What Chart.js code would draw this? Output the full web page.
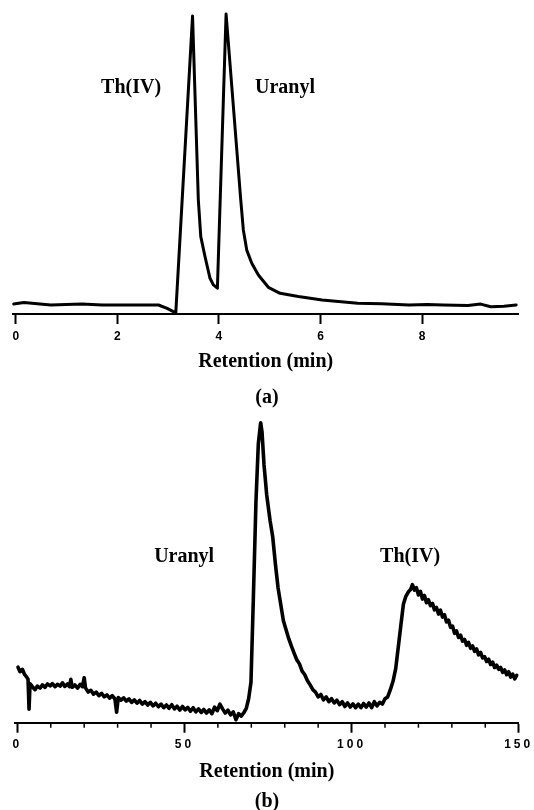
<!DOCTYPE html>
<html>
<head>
<meta charset="utf-8">
<script src="https://cdn.jsdelivr.net/npm/chart.js@4.4.1/dist/chart.umd.min.js"></script>
<style>
  html, body { margin: 0; padding: 0; background: #fff; }
  body { width: 534px; height: 810px; position: relative; overflow: hidden; }
  canvas { position: absolute; left: 0; }
  .cap { position: absolute; left: 0; width: 534px; text-align: center;
         font: bold 20px "Liberation Serif", "Times New Roman", serif; line-height: 24px; color: #000; }
</style>
</head>
<body>
<canvas id="chartA" width="534" height="405" style="top:0"></canvas>
<canvas id="chartB" width="534" height="405" style="top:405px"></canvas>
<div class="cap" style="top:384px">(a)</div>
<div class="cap" style="top:788px">(b)</div>
<script>
// ---------- Panel (a) ----------
const retentionA = [-0.04, 0.16, 0.69, 1.30, 1.70, 2.30, 2.81, 2.98, 3.15, 3.48, 3.594, 3.642, 3.726, 3.824, 3.890, 3.969,
  4.140, 4.429, 4.480, 4.547, 4.646, 4.776, 4.972, 5.203, 5.563, 6.03, 6.73, 7.20, 7.74, 8.10, 8.41, 8.90, 9.15, 9.35, 9.61, 9.85];
const signalA = [3.3, 3.8, 3.0, 3.3, 3.0, 3.0, 3.0, 1.9, 0.4, 99.3, 38.0, 25.8, 19.1, 11.9, 9.7, 8.6,
  100.0, 38.0, 28.0, 21.3, 16.9, 13.0, 8.9, 6.9, 5.8, 4.7, 3.6, 3.4, 3.0, 3.2, 3.0, 2.8, 3.3, 2.4, 2.6, 3.0];
const ticksA = [0, 2, 4, 6, 8];
const labelsA = ['Th(IV)', 'Uranyl'];
const labelXA = [2.27, 5.30];
const labelYA = [75.3, 75.3];

// ---------- Panel (b) ----------
const retentionB = [0.2, 0.8, 1.5, 2.2, 2.8, 3.2, 3.5, 3.8, 4.5, 5.3, 6.0, 6.8, 7.5, 8.3, 9.0, 9.8, 10.5, 11.3, 12.0, 12.8,
  13.5, 14.2, 15.0, 15.6, 16.0, 16.4, 17.2, 18.0, 18.8, 19.5, 20.0, 20.4, 21.2, 22.0, 22.8, 23.6, 24.4, 25.2, 26.0, 26.8,
  27.6, 28.4, 29.2, 29.7, 30.2, 31.0, 31.8, 32.6, 33.4, 34.2, 35.0, 35.8, 36.6, 37.4, 38.2, 39.0, 39.8, 40.6, 41.4, 42.2,
  43.0, 43.8, 44.6, 45.4, 46.2, 47.0, 47.8, 48.6, 49.4, 50.2, 51.0, 51.8, 52.6, 53.4, 54.2, 55.0, 55.8, 56.6, 57.4, 58.2,
  59.0, 59.8, 60.6, 61.4, 62.2, 63.0, 63.8, 64.6, 65.4, 66.2, 67.0, 67.8, 68.5, 69.2, 69.9, 70.6, 71.4, 72.1, 72.8, 73.2,
  73.8, 74.6, 75.6, 76.4, 77.2, 78.0, 78.8, 79.6, 80.4, 81.2, 82.0, 82.8, 83.6, 84.4, 85.2, 86.0, 86.8, 87.6, 88.4, 89.2,
  90.0, 90.8, 91.6, 92.4, 93.2, 94.0, 94.8, 95.6, 96.4, 97.2, 98.0, 98.8, 99.6, 100.4, 101.2, 102.0, 102.8, 103.6, 104.4, 105.2,
  106.0, 106.8, 107.6, 108.4, 109.2, 110.0, 110.8, 111.6, 112.4, 113.2, 114.0, 114.8, 115.5, 116.2, 117.0, 117.7, 118.2, 118.8, 119.4, 120.0,
  120.6, 121.2, 121.8, 122.4, 123.0, 123.6, 124.2, 124.8, 125.4, 126.0, 126.6, 127.2, 127.8, 128.4, 129.0, 129.6, 130.2, 130.8, 131.4, 132.0,
  132.6, 133.2, 133.8, 134.4, 135.0, 135.6, 136.2, 136.8, 137.4, 138.0, 138.6, 139.2, 139.8, 140.4, 141.0, 141.6, 142.2, 142.8, 143.4, 144.0,
  144.6, 145.2, 145.8, 146.4, 147.0, 147.6, 148.2, 148.8, 149.4];
const signalB = [18.5, 17.0, 17.8, 16.0, 15.2, 14.5, 4.5, 13.0, 12.0, 11.0, 12.2, 11.5, 12.6, 11.8, 12.9, 12.3, 13.0, 12.0, 12.8, 12.2,
  13.3, 12.1, 12.9, 12.0, 14.5, 11.8, 12.6, 11.5, 12.8, 12.0, 15.0, 11.6, 10.2, 10.8, 9.5, 10.2, 9.0, 9.8, 8.6, 9.3,
  8.2, 9.0, 7.9, 3.5, 8.4, 7.5, 8.3, 7.2, 7.9, 6.8, 7.6, 6.5, 7.4, 6.2, 7.0, 5.9, 6.8, 5.6, 6.5, 5.3,
  6.2, 5.0, 5.9, 4.8, 6.0, 4.6, 5.5, 4.2, 5.4, 4.3, 5.1, 3.8, 5.0, 3.6, 4.6, 3.4, 4.4, 3.2, 4.3, 3.0,
  5.2, 4.0, 6.2, 4.6, 3.2, 4.2, 2.6, 3.6, 1.0, 3.0, 2.2, 3.4, 4.8, 8.0, 13.5, 41.0, 74.0, 93.0, 100.0, 97.0,
  86.0, 76.0, 67.5, 62.0, 53.0, 45.0, 39.5, 34.0, 31.0, 28.0, 25.5, 23.2, 21.0, 19.6, 17.2, 16.0, 14.0, 12.6, 11.0, 10.2,
  8.6, 9.4, 7.6, 8.6, 7.0, 8.0, 6.6, 7.5, 6.0, 7.0, 5.4, 6.6, 5.2, 6.3, 5.0, 6.2, 5.0, 6.4, 5.2, 6.6,
  5.0, 7.0, 5.6, 6.8, 6.2, 8.0, 8.6, 11.0, 13.8, 18.0, 25.5, 33.0, 39.5, 42.0, 43.6, 44.5, 46.0, 44.2, 45.0, 42.6,
  43.8, 41.2, 42.4, 40.0, 41.0, 39.0, 39.8, 37.6, 38.4, 36.2, 37.5, 35.2, 36.0, 33.6, 34.2, 31.8, 32.2, 29.8, 30.6, 28.4,
  29.2, 27.2, 27.8, 25.8, 26.8, 24.8, 25.6, 23.8, 24.6, 22.6, 23.4, 21.6, 22.0, 20.4, 21.2, 19.4, 20.2, 18.4, 19.2, 17.8,
  18.4, 16.8, 17.6, 16.0, 17.0, 15.2, 16.2, 14.6, 15.8];
const ticksB = [0, 50, 100, 150];
const minorTicksB = [10, 20, 30, 40, 60, 70, 80, 90, 110, 120, 130, 140];
const labelsB = ['Uranyl', 'Th(IV)'];
const labelXB = [49.9, 117.5];
const labelYB = [55.2, 55.2];

const AXIS_TITLE = 'Retention (min)';

const annotPlugin = {
  id: 'annot',
  afterDatasetsDraw(chart, args, opts) {
    const ctx = chart.ctx, xs = chart.scales.x, ys = chart.scales.y;
    ctx.save();
    ctx.letterSpacing = '0px';
    ctx.font = 'bold 20px "Liberation Serif", "Times New Roman", serif';
    ctx.fillStyle = '#000';
    ctx.textAlign = 'center';
    ctx.textBaseline = 'middle';
    opts.texts.forEach((t, i) => ctx.fillText(t, xs.getPixelForValue(opts.xs[i]), ys.getPixelForValue(opts.ys[i])));
    // minor ticks
    ctx.strokeStyle = '#000';
    ctx.lineWidth = 1.5;
    (opts.minor || []).forEach(v => {
      const px = xs.getPixelForValue(v);
      ctx.beginPath();
      ctx.moveTo(px, xs.top);
      ctx.lineTo(px, xs.top + 5);
      ctx.stroke();
    });
    ctx.restore();
    ctx.letterSpacing = opts.spacing || '0px';
  },
  afterDraw(chart) { chart.ctx.letterSpacing = '0px'; }
};

function makeChart(id, xsArr, ysArr, cfg) {
  return new Chart(document.getElementById(id), {
    type: 'line',
    data: {
      datasets: [{
        data: xsArr.map((x, i) => ({ x: x, y: ysArr[i] })),
        borderColor: '#000',
        borderWidth: cfg.lineWidth,
        pointRadius: 0,
        tension: 0,
        fill: false,
        clip: false,
        borderJoinStyle: 'round',
        borderCapStyle: 'round'
      }]
    },
    options: {
      responsive: false,
      devicePixelRatio: 1,
      animation: false,
      events: [],
      layout: { padding: cfg.padding },
      plugins: {
        legend: { display: false },
        tooltip: { enabled: false },
        annot: { texts: cfg.texts, xs: cfg.lx, ys: cfg.ly, minor: cfg.minor, spacing: cfg.spacing }
      },
      scales: {
        x: {
          type: 'linear',
          position: 'bottom',
          min: cfg.min,
          max: cfg.max,
          afterBuildTicks: (s) => { s.ticks = cfg.ticks.map(v => ({ value: v })); },
          afterFit: (s) => { s.height = cfg.scaleH; },
          grid: { display: true, drawOnChartArea: false, drawTicks: true, tickLength: 10, tickWidth: 2, tickColor: '#000' },
          border: { display: true, color: '#000', width: 2 },
          ticks: {
            z: 1,
            padding: cfg.tickPad,
            color: '#000',
            maxRotation: 0,
            autoSkip: false,
            font: { family: '"Liberation Sans", Arial, sans-serif', weight: 'bold', size: cfg.tickSize }
          },
          title: {
            display: true,
            text: AXIS_TITLE,
            color: '#000',
            padding: { top: 0, bottom: cfg.titlePad },
            font: { family: '"Liberation Serif", "Times New Roman", serif', weight: 'bold', size: 20, lineHeight: 1.2 }
          }
        },
        y: { type: 'linear', display: false, min: 0, max: 100 }
      }
    },
    plugins: [annotPlugin]
  });
}

makeChart('chartA', retentionA, signalA, {
  lineWidth: 3, padding: { top: 14, left: 12.7, right: 15.3, bottom: 0 },
  min: -0.06, max: 9.9, ticks: ticksA, scaleH: 91, tickPad: 5, tickSize: 12, titlePad: 31,
  texts: labelsA, lx: labelXA, ly: labelYA, minor: [], spacing: '0px'
});
makeChart('chartB', retentionB, signalB, {
  lineWidth: 3.6, padding: { top: 17.7, left: 15, right: 15.3, bottom: 0 },
  min: -0.7, max: 150, ticks: ticksB, scaleH: 87.3, tickPad: 4.5, tickSize: 12, titlePad: 26,
  texts: labelsB, lx: labelXB, ly: labelYB, minor: minorTicksB, spacing: '3px'
});
</script>
</body>
</html>
